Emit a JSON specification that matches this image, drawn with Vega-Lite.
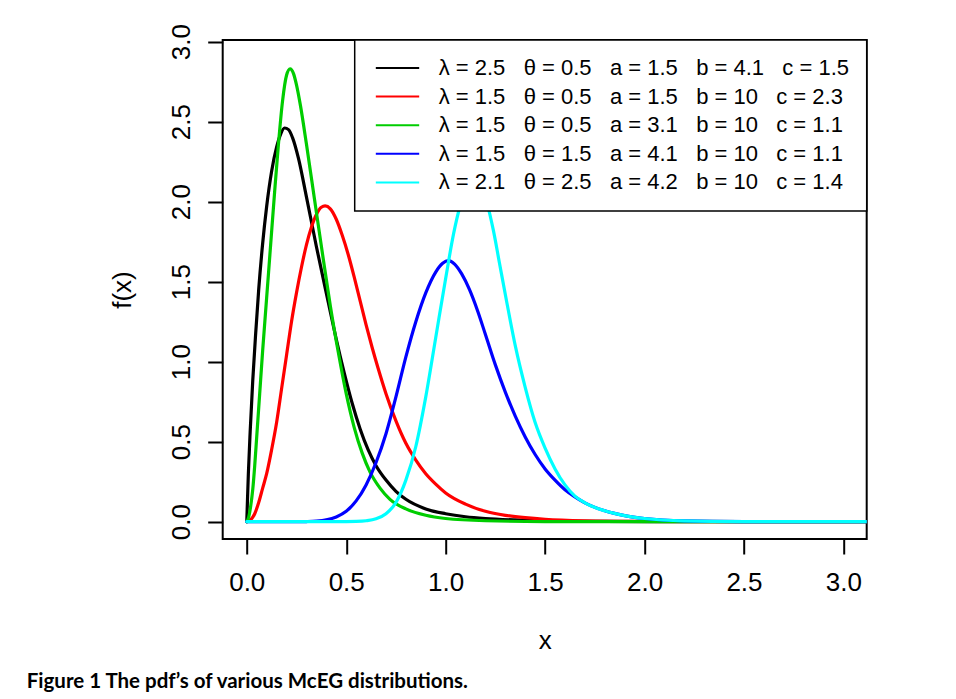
{
  "$schema": "https://vega.github.io/schema/vega-lite/v6.json",
  "width": 644,
  "height": 499,
  "autosize": {"type": "none"},
  "padding": {"left": 222.7, "top": 40, "right": 89.3, "bottom": 160},
  "background": "white",
  "title": {"text": "Figure 1 The pdf’s of various McEG distributions.", "orient": "bottom", "anchor": "start", "frame": "group", "dx": -196, "offset": 19, "font": "Lato", "fontWeight": "bold", "fontSize": 20.5, "color": "black"},
  "data": {"values": [
    {"id":"k1","x":0,"y":0},{"id":"k1","x":0.008,"y":0.3},{"id":"k1","x":0.017,"y":0.56},{"id":"k1","x":0.03,"y":0.88},{"id":"k1","x":0.045,"y":1.18},{"id":"k1","x":0.06,"y":1.45},{"id":"k1","x":0.08,"y":1.74},{"id":"k1","x":0.1,"y":1.97},{"id":"k1","x":0.125,"y":2.19},{"id":"k1","x":0.15,"y":2.34},{"id":"k1","x":0.17,"y":2.42},{"id":"k1","x":0.19,"y":2.46},{"id":"k1","x":0.21,"y":2.45},{"id":"k1","x":0.23,"y":2.4},{"id":"k1","x":0.26,"y":2.27},{"id":"k1","x":0.3,"y":2.03},{"id":"k1","x":0.35,"y":1.72},{"id":"k1","x":0.41,"y":1.37},{"id":"k1","x":0.45,"y":1.14},{"id":"k1","x":0.49,"y":0.93},{"id":"k1","x":0.53,"y":0.74},{"id":"k1","x":0.57,"y":0.58},{"id":"k1","x":0.61,"y":0.45},{"id":"k1","x":0.65,"y":0.35},{"id":"k1","x":0.7,"y":0.26},{"id":"k1","x":0.75,"y":0.19},{"id":"k1","x":0.8,"y":0.14},{"id":"k1","x":0.9,"y":0.08},{"id":"k1","x":1.0,"y":0.05},{"id":"k1","x":1.1,"y":0.031},{"id":"k1","x":1.2,"y":0.02},{"id":"k1","x":1.35,"y":0.011},{"id":"k1","x":1.5,"y":0.006},{"id":"k1","x":1.8,"y":0.002},{"id":"k1","x":2.2,"y":0.0005},{"id":"k1","x":3.117,"y":0},
    {"id":"k2","x":0,"y":0},{"id":"k2","x":0.02,"y":0.012},{"id":"k2","x":0.04,"y":0.05},{"id":"k2","x":0.06,"y":0.12},{"id":"k2","x":0.08,"y":0.21},{"id":"k2","x":0.1,"y":0.3},{"id":"k2","x":0.125,"y":0.45},{"id":"k2","x":0.15,"y":0.62},{"id":"k2","x":0.175,"y":0.83},{"id":"k2","x":0.2,"y":1.04},{"id":"k2","x":0.225,"y":1.25},{"id":"k2","x":0.25,"y":1.43},{"id":"k2","x":0.275,"y":1.59},{"id":"k2","x":0.3,"y":1.73},{"id":"k2","x":0.325,"y":1.84},{"id":"k2","x":0.35,"y":1.92},{"id":"k2","x":0.375,"y":1.965},{"id":"k2","x":0.394,"y":1.973},{"id":"k2","x":0.42,"y":1.955},{"id":"k2","x":0.45,"y":1.89},{"id":"k2","x":0.48,"y":1.79},{"id":"k2","x":0.51,"y":1.67},{"id":"k2","x":0.54,"y":1.53},{"id":"k2","x":0.57,"y":1.38},{"id":"k2","x":0.6,"y":1.23},{"id":"k2","x":0.63,"y":1.09},{"id":"k2","x":0.66,"y":0.96},{"id":"k2","x":0.7,"y":0.8},{"id":"k2","x":0.75,"y":0.63},{"id":"k2","x":0.8,"y":0.49},{"id":"k2","x":0.85,"y":0.385},{"id":"k2","x":0.9,"y":0.3},{"id":"k2","x":0.95,"y":0.235},{"id":"k2","x":1.0,"y":0.18},{"id":"k2","x":1.1,"y":0.11},{"id":"k2","x":1.2,"y":0.065},{"id":"k2","x":1.3,"y":0.04},{"id":"k2","x":1.4,"y":0.025},{"id":"k2","x":1.5,"y":0.015},{"id":"k2","x":1.7,"y":0.006},{"id":"k2","x":2.0,"y":0.002},{"id":"k2","x":2.5,"y":0.0003},{"id":"k2","x":3.117,"y":0},
    {"id":"k3","x":0,"y":0},{"id":"k3","x":0.01,"y":0.03},{"id":"k3","x":0.02,"y":0.1},{"id":"k3","x":0.03,"y":0.2},{"id":"k3","x":0.04,"y":0.35},{"id":"k3","x":0.05,"y":0.53},{"id":"k3","x":0.065,"y":0.8},{"id":"k3","x":0.08,"y":1.07},{"id":"k3","x":0.1,"y":1.4},{"id":"k3","x":0.12,"y":1.73},{"id":"k3","x":0.14,"y":2.06},{"id":"k3","x":0.16,"y":2.37},{"id":"k3","x":0.18,"y":2.63},{"id":"k3","x":0.2,"y":2.79},{"id":"k3","x":0.218,"y":2.83},{"id":"k3","x":0.235,"y":2.8},{"id":"k3","x":0.25,"y":2.73},{"id":"k3","x":0.27,"y":2.6},{"id":"k3","x":0.3,"y":2.36},{"id":"k3","x":0.34,"y":2.02},{"id":"k3","x":0.38,"y":1.68},{"id":"k3","x":0.42,"y":1.35},{"id":"k3","x":0.46,"y":1.06},{"id":"k3","x":0.5,"y":0.8},{"id":"k3","x":0.54,"y":0.59},{"id":"k3","x":0.58,"y":0.43},{"id":"k3","x":0.62,"y":0.31},{"id":"k3","x":0.67,"y":0.21},{"id":"k3","x":0.72,"y":0.14},{"id":"k3","x":0.8,"y":0.08},{"id":"k3","x":0.9,"y":0.04},{"id":"k3","x":1.0,"y":0.02},{"id":"k3","x":1.2,"y":0.006},{"id":"k3","x":1.5,"y":0.001},{"id":"k3","x":2.0,"y":0},{"id":"k3","x":3.117,"y":0},
    {"id":"k4","x":0,"y":0},{"id":"k4","x":0.25,"y":0},{"id":"k4","x":0.3,"y":0.001},{"id":"k4","x":0.35,"y":0.004},{"id":"k4","x":0.4,"y":0.012},{"id":"k4","x":0.45,"y":0.03},{"id":"k4","x":0.5,"y":0.065},{"id":"k4","x":0.55,"y":0.13},{"id":"k4","x":0.6,"y":0.23},{"id":"k4","x":0.65,"y":0.37},{"id":"k4","x":0.7,"y":0.55},{"id":"k4","x":0.75,"y":0.78},{"id":"k4","x":0.8,"y":1.03},{"id":"k4","x":0.85,"y":1.25},{"id":"k4","x":0.9,"y":1.43},{"id":"k4","x":0.95,"y":1.56},{"id":"k4","x":0.985,"y":1.615},{"id":"k4","x":1.014,"y":1.631},{"id":"k4","x":1.045,"y":1.61},{"id":"k4","x":1.08,"y":1.55},{"id":"k4","x":1.12,"y":1.45},{"id":"k4","x":1.16,"y":1.32},{"id":"k4","x":1.2,"y":1.17},{"id":"k4","x":1.25,"y":0.98},{"id":"k4","x":1.3,"y":0.81},{"id":"k4","x":1.35,"y":0.66},{"id":"k4","x":1.4,"y":0.53},{"id":"k4","x":1.45,"y":0.42},{"id":"k4","x":1.5,"y":0.33},{"id":"k4","x":1.55,"y":0.26},{"id":"k4","x":1.6,"y":0.2},{"id":"k4","x":1.65,"y":0.155},{"id":"k4","x":1.7,"y":0.118},{"id":"k4","x":1.8,"y":0.068},{"id":"k4","x":1.9,"y":0.038},{"id":"k4","x":2.0,"y":0.02},{"id":"k4","x":2.2,"y":0.005},{"id":"k4","x":2.5,"y":0.001},{"id":"k4","x":3.117,"y":0},
    {"id":"k5","x":0,"y":0},{"id":"k5","x":0.45,"y":0},{"id":"k5","x":0.55,"y":0.002},{"id":"k5","x":0.6,"y":0.006},{"id":"k5","x":0.65,"y":0.018},{"id":"k5","x":0.7,"y":0.05},{"id":"k5","x":0.75,"y":0.12},{"id":"k5","x":0.8,"y":0.26},{"id":"k5","x":0.85,"y":0.47},{"id":"k5","x":0.9,"y":0.78},{"id":"k5","x":0.95,"y":1.15},{"id":"k5","x":1.0,"y":1.52},{"id":"k5","x":1.04,"y":1.8},{"id":"k5","x":1.07,"y":1.96},{"id":"k5","x":1.1,"y":2.06},{"id":"k5","x":1.14,"y":2.11},{"id":"k5","x":1.175,"y":2.08},{"id":"k5","x":1.21,"y":1.98},{"id":"k5","x":1.24,"y":1.82},{"id":"k5","x":1.27,"y":1.62},{"id":"k5","x":1.3,"y":1.42},{"id":"k5","x":1.35,"y":1.1},{"id":"k5","x":1.4,"y":0.84},{"id":"k5","x":1.45,"y":0.62},{"id":"k5","x":1.5,"y":0.46},{"id":"k5","x":1.55,"y":0.33},{"id":"k5","x":1.6,"y":0.23},{"id":"k5","x":1.65,"y":0.16},{"id":"k5","x":1.7,"y":0.118},{"id":"k5","x":1.8,"y":0.068},{"id":"k5","x":1.9,"y":0.038},{"id":"k5","x":2.0,"y":0.02},{"id":"k5","x":2.2,"y":0.005},{"id":"k5","x":2.5,"y":0.001},{"id":"k5","x":3.117,"y":0}
  ]},
  "mark": {"type": "line", "strokeWidth": 3.2, "interpolate": "monotone", "clip": true, "strokeCap": "round", "strokeJoin": "round"},
  "encoding": {
    "x": {"field": "x", "type": "quantitative",
      "scale": {"domain": [-0.121, 3.117], "nice": false, "zero": false},
      "axis": {"values": [0, 0.5, 1, 1.5, 2, 2.5, 3], "format": ".1f", "title": "x", "labelPadding": 15, "titlePadding": 32}},
    "y": {"field": "y", "type": "quantitative",
      "scale": {"domain": [-0.108, 3.01], "nice": false, "zero": false},
      "axis": {"values": [0, 0.5, 1, 1.5, 2, 2.5, 3], "format": ".1f", "title": "f(x)", "labelAngle": 270, "labelAlign": "center", "labelBaseline": "alphabetic", "labelPadding": 18, "titlePadding": 33}},
    "color": {"field": "id", "type": "nominal",
      "scale": {"domain": ["k1", "k2", "k3", "k4", "k5"], "range": ["#000000", "#FF0000", "#00CD00", "#0000FF", "#00FFFF"]},
      "legend": {
        "title": null, "orient": "top-right", "offset": 0, "zindex": -1,
        "strokeColor": "black", "fillColor": "white", "padding": 17, "rowPadding": 6.6,
        "symbolType": "M-3,0H3", "symbolSize": 209, "symbolStrokeWidth": 2, "symbolOffset": 14.8,
        "labelFont": "Liberation Sans", "labelFontSize": 22, "labelColor": "black", "labelLimit": 1000, "labelOffset": 30.2,
        "labelExpr": "datum.value == 'k1' ? 'λ\u00a0=\u00a02.5\u00a0\u00a0\u00a0θ\u00a0=\u00a00.5\u00a0\u00a0\u00a0a\u00a0=\u00a01.5\u00a0\u00a0\u00a0b\u00a0=\u00a04.1\u00a0\u00a0\u00a0c\u00a0=\u00a01.5' : datum.value == 'k2' ? 'λ\u00a0=\u00a01.5\u00a0\u00a0\u00a0θ\u00a0=\u00a00.5\u00a0\u00a0\u00a0a\u00a0=\u00a01.5\u00a0\u00a0\u00a0b\u00a0=\u00a010\u00a0\u00a0\u00a0c\u00a0=\u00a02.3' : datum.value == 'k3' ? 'λ\u00a0=\u00a01.5\u00a0\u00a0\u00a0θ\u00a0=\u00a00.5\u00a0\u00a0\u00a0a\u00a0=\u00a03.1\u00a0\u00a0\u00a0b\u00a0=\u00a010\u00a0\u00a0\u00a0c\u00a0=\u00a01.1' : datum.value == 'k4' ? 'λ\u00a0=\u00a01.5\u00a0\u00a0\u00a0θ\u00a0=\u00a01.5\u00a0\u00a0\u00a0a\u00a0=\u00a04.1\u00a0\u00a0\u00a0b\u00a0=\u00a010\u00a0\u00a0\u00a0c\u00a0=\u00a01.1' : 'λ\u00a0=\u00a02.1\u00a0\u00a0\u00a0θ\u00a0=\u00a02.5\u00a0\u00a0\u00a0a\u00a0=\u00a04.2\u00a0\u00a0\u00a0b\u00a0=\u00a010\u00a0\u00a0\u00a0c\u00a0=\u00a01.4'"
      }}
  },
  "config": {
    "view": {"stroke": "black", "strokeWidth": 2, "fill": "white"},
    "axis": {"grid": false, "domain": false, "tickColor": "black", "tickWidth": 2, "tickSize": 15,
      "labelFont": "Liberation Sans", "labelFontSize": 26, "labelColor": "black", "labelFlush": false, "labelOverlap": false,
      "titleFont": "Liberation Sans", "titleFontSize": 26, "titleFontWeight": "normal", "titleColor": "black"},
    "legend": {"strokeWidth": 1.5}
  }
}
